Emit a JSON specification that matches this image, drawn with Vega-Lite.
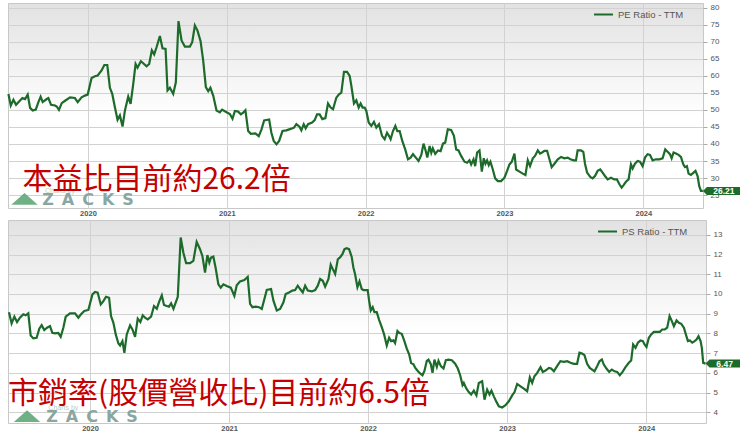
{
  "$schema": "https://vega.github.io/schema/vega-lite/v6.json",
  "padding": {"left": 3, "top": 2, "right": 0, "bottom": 0},
  "background": "white",
  "bounds": "flush",
  "spacing": 12,
  "datasets": {
    "pe": [
      {"t":2019.427,"v":54.7},{"t":2019.444,"v":51.3},{"t":2019.463,"v":53.0},{"t":2019.482,"v":51.5},{"t":2019.504,"v":52.5},
      {"t":2019.528,"v":53.5},{"t":2019.547,"v":53.2},{"t":2019.566,"v":54.5},{"t":2019.583,"v":50.6},{"t":2019.602,"v":49.8},
      {"t":2019.624,"v":50.1},{"t":2019.643,"v":52.3},{"t":2019.659,"v":53.9},{"t":2019.674,"v":52.3},{"t":2019.703,"v":53.2},
      {"t":2019.715,"v":53.5},{"t":2019.734,"v":51.5},{"t":2019.763,"v":51.3},{"t":2019.775,"v":51.0},{"t":2019.791,"v":50.0},
      {"t":2019.811,"v":52.0},{"t":2019.835,"v":52.7},{"t":2019.871,"v":53.7},{"t":2019.906,"v":53.5},{"t":2019.926,"v":52.3},
      {"t":2019.954,"v":53.7},{"t":2019.978,"v":54.2},{"t":2019.998,"v":54.5},{"t":2020.026,"v":59.4},{"t":2020.050,"v":59.9},
      {"t":2020.070,"v":60.1},{"t":2020.098,"v":61.6},{"t":2020.118,"v":63.2},{"t":2020.139,"v":63.2},{"t":2020.158,"v":56.5},
      {"t":2020.175,"v":54.7},{"t":2020.194,"v":50.8},{"t":2020.213,"v":47.1},{"t":2020.230,"v":48.4},{"t":2020.249,"v":45.1},
      {"t":2020.266,"v":49.8},{"t":2020.290,"v":53.9},{"t":2020.307,"v":51.8},{"t":2020.326,"v":57.6},{"t":2020.343,"v":63.5},
      {"t":2020.357,"v":62.4},{"t":2020.381,"v":64.3},{"t":2020.398,"v":63.7},{"t":2020.422,"v":62.8},{"t":2020.441,"v":63.5},
      {"t":2020.460,"v":67.5},{"t":2020.477,"v":66.3},{"t":2020.494,"v":68.4},{"t":2020.518,"v":71.7},{"t":2020.537,"v":68.1},
      {"t":2020.559,"v":67.9},{"t":2020.573,"v":55.7},{"t":2020.590,"v":56.5},{"t":2020.614,"v":54.7},{"t":2020.633,"v":58.1},
      {"t":2020.652,"v":76.1},{"t":2020.674,"v":70.4},{"t":2020.698,"v":68.6},{"t":2020.734,"v":68.6},{"t":2020.751,"v":69.9},
      {"t":2020.770,"v":74.8},{"t":2020.789,"v":73.3},{"t":2020.811,"v":70.2},{"t":2020.830,"v":64.5},{"t":2020.849,"v":56.7},
      {"t":2020.866,"v":55.5},{"t":2020.882,"v":56.5},{"t":2020.902,"v":54.2},{"t":2020.926,"v":49.8},{"t":2020.950,"v":49.3},
      {"t":2020.966,"v":50.1},{"t":2020.998,"v":49.3},{"t":2021.022,"v":48.8},{"t":2021.041,"v":47.4},{"t":2021.058,"v":49.7},
      {"t":2021.082,"v":49.5},{"t":2021.101,"v":48.7},{"t":2021.118,"v":49.2},{"t":2021.134,"v":49.9},{"t":2021.154,"v":43.8},
      {"t":2021.173,"v":43.0},{"t":2021.206,"v":43.1},{"t":2021.230,"v":42.3},{"t":2021.250,"v":44.3},{"t":2021.269,"v":46.9},
      {"t":2021.305,"v":47.2},{"t":2021.321,"v":43.3},{"t":2021.338,"v":40.9},{"t":2021.358,"v":39.9},{"t":2021.377,"v":40.9},
      {"t":2021.401,"v":43.8},{"t":2021.429,"v":44.0},{"t":2021.465,"v":44.5},{"t":2021.484,"v":44.8},{"t":2021.501,"v":45.8},
      {"t":2021.525,"v":45.0},{"t":2021.537,"v":44.0},{"t":2021.554,"v":45.8},{"t":2021.568,"v":44.6},{"t":2021.585,"v":45.8},
      {"t":2021.614,"v":46.3},{"t":2021.633,"v":47.0},{"t":2021.650,"v":48.7},{"t":2021.669,"v":48.7},{"t":2021.688,"v":47.3},
      {"t":2021.710,"v":47.6},{"t":2021.729,"v":51.9},{"t":2021.748,"v":50.7},{"t":2021.765,"v":50.2},{"t":2021.789,"v":53.6},
      {"t":2021.808,"v":54.6},{"t":2021.825,"v":55.1},{"t":2021.844,"v":61.2},{"t":2021.866,"v":61.2},{"t":2021.885,"v":60.0},
      {"t":2021.897,"v":57.1},{"t":2021.916,"v":51.9},{"t":2021.933,"v":52.8},{"t":2021.950,"v":50.7},{"t":2021.964,"v":51.9},
      {"t":2021.978,"v":50.7},{"t":2021.993,"v":50.7},{"t":2022.005,"v":49.7},{"t":2022.022,"v":46.3},{"t":2022.041,"v":45.3},
      {"t":2022.060,"v":46.5},{"t":2022.077,"v":44.8},{"t":2022.096,"v":45.8},{"t":2022.118,"v":42.4},{"t":2022.137,"v":41.4},
      {"t":2022.154,"v":43.3},{"t":2022.168,"v":42.4},{"t":2022.180,"v":41.4},{"t":2022.197,"v":43.8},{"t":2022.214,"v":45.3},
      {"t":2022.228,"v":43.8},{"t":2022.245,"v":43.8},{"t":2022.264,"v":40.9},{"t":2022.285,"v":38.4},{"t":2022.305,"v":35.5},
      {"t":2022.324,"v":36.0},{"t":2022.341,"v":37.0},{"t":2022.357,"v":36.2},{"t":2022.381,"v":35.0},{"t":2022.401,"v":36.8},
      {"t":2022.417,"v":40.1},{"t":2022.432,"v":38.1},{"t":2022.444,"v":36.0},{"t":2022.461,"v":39.4},{"t":2022.473,"v":37.4},
      {"t":2022.484,"v":38.7},{"t":2022.501,"v":37.1},{"t":2022.521,"v":38.1},{"t":2022.540,"v":37.9},{"t":2022.557,"v":40.1},
      {"t":2022.573,"v":40.4},{"t":2022.592,"v":44.3},{"t":2022.616,"v":44.1},{"t":2022.636,"v":42.4},{"t":2022.652,"v":38.4},
      {"t":2022.669,"v":38.1},{"t":2022.688,"v":36.5},{"t":2022.712,"v":34.8},{"t":2022.731,"v":34.5},{"t":2022.748,"v":35.2},
      {"t":2022.760,"v":34.0},{"t":2022.777,"v":35.5},{"t":2022.789,"v":33.5},{"t":2022.803,"v":37.5},{"t":2022.820,"v":38.1},
      {"t":2022.837,"v":31.9},{"t":2022.851,"v":35.8},{"t":2022.863,"v":34.2},{"t":2022.875,"v":35.2},{"t":2022.887,"v":33.8},
      {"t":2022.899,"v":34.8},{"t":2022.916,"v":32.5},{"t":2022.933,"v":29.9},{"t":2022.952,"v":29.1},{"t":2022.976,"v":29.1},
      {"t":2023.000,"v":30.1},{"t":2023.019,"v":32.1},{"t":2023.036,"v":34.0},{"t":2023.053,"v":34.8},{"t":2023.072,"v":37.2},
      {"t":2023.084,"v":32.5},{"t":2023.108,"v":31.9},{"t":2023.132,"v":31.3},{"t":2023.151,"v":30.9},{"t":2023.168,"v":35.2},
      {"t":2023.184,"v":33.5},{"t":2023.204,"v":35.8},{"t":2023.220,"v":36.5},{"t":2023.240,"v":38.1},{"t":2023.256,"v":37.2},
      {"t":2023.271,"v":37.5},{"t":2023.288,"v":38.0},{"t":2023.307,"v":38.0},{"t":2023.324,"v":35.5},{"t":2023.340,"v":33.2},
      {"t":2023.360,"v":34.2},{"t":2023.384,"v":35.5},{"t":2023.408,"v":36.2},{"t":2023.431,"v":35.8},{"t":2023.455,"v":36.0},
      {"t":2023.475,"v":35.5},{"t":2023.499,"v":35.2},{"t":2023.515,"v":35.2},{"t":2023.527,"v":38.1},{"t":2023.551,"v":38.1},
      {"t":2023.568,"v":37.7},{"t":2023.580,"v":34.2},{"t":2023.595,"v":31.6},{"t":2023.618,"v":30.3},{"t":2023.635,"v":29.9},
      {"t":2023.652,"v":30.6},{"t":2023.671,"v":32.1},{"t":2023.690,"v":32.5},{"t":2023.707,"v":31.6},{"t":2023.724,"v":30.6},
      {"t":2023.743,"v":29.6},{"t":2023.767,"v":30.1},{"t":2023.791,"v":29.6},{"t":2023.810,"v":29.6},{"t":2023.829,"v":28.1},
      {"t":2023.844,"v":27.2},{"t":2023.858,"v":27.9},{"t":2023.875,"v":28.9},{"t":2023.894,"v":29.6},{"t":2023.911,"v":34.0},
      {"t":2023.923,"v":32.8},{"t":2023.940,"v":34.2},{"t":2023.959,"v":35.0},{"t":2023.976,"v":34.8},{"t":2023.995,"v":33.5},
      {"t":2024.012,"v":36.0},{"t":2024.031,"v":37.0},{"t":2024.048,"v":36.8},{"t":2024.067,"v":35.2},{"t":2024.091,"v":35.5},
      {"t":2024.115,"v":35.5},{"t":2024.139,"v":35.8},{"t":2024.158,"v":38.4},{"t":2024.175,"v":37.7},{"t":2024.192,"v":37.0},
      {"t":2024.204,"v":35.8},{"t":2024.218,"v":37.5},{"t":2024.235,"v":37.2},{"t":2024.254,"v":36.8},{"t":2024.271,"v":36.2},
      {"t":2024.288,"v":34.0},{"t":2024.300,"v":33.2},{"t":2024.314,"v":33.5},{"t":2024.326,"v":31.3},{"t":2024.343,"v":30.9},
      {"t":2024.362,"v":31.6},{"t":2024.376,"v":32.1},{"t":2024.391,"v":30.6},{"t":2024.403,"v":27.6},{"t":2024.415,"v":26.2},
      {"t":2024.429,"v":26.21}
    ],
    "ps": [
      {"t":2019.417,"v":9.08},{"t":2019.436,"v":8.51},{"t":2019.456,"v":8.85},{"t":2019.475,"v":8.58},{"t":2019.496,"v":8.80},
      {"t":2019.520,"v":8.97},{"t":2019.537,"v":8.92},{"t":2019.556,"v":9.02},{"t":2019.573,"v":7.90},{"t":2019.592,"v":7.75},
      {"t":2019.616,"v":7.78},{"t":2019.635,"v":8.24},{"t":2019.652,"v":8.42},{"t":2019.671,"v":8.17},{"t":2019.691,"v":8.29},
      {"t":2019.712,"v":8.37},{"t":2019.729,"v":8.03},{"t":2019.748,"v":8.00},{"t":2019.772,"v":8.03},{"t":2019.789,"v":7.83},
      {"t":2019.808,"v":8.29},{"t":2019.825,"v":8.85},{"t":2019.856,"v":9.02},{"t":2019.892,"v":9.02},{"t":2019.916,"v":8.80},
      {"t":2019.935,"v":8.97},{"t":2019.959,"v":9.14},{"t":2019.988,"v":9.19},{"t":2020.017,"v":9.98},{"t":2020.036,"v":10.10},
      {"t":2020.055,"v":10.07},{"t":2020.077,"v":9.47},{"t":2020.096,"v":9.64},{"t":2020.115,"v":9.86},{"t":2020.137,"v":9.81},
      {"t":2020.151,"v":8.88},{"t":2020.168,"v":8.54},{"t":2020.185,"v":7.95},{"t":2020.204,"v":7.49},{"t":2020.216,"v":7.39},
      {"t":2020.233,"v":7.61},{"t":2020.247,"v":7.02},{"t":2020.264,"v":7.95},{"t":2020.288,"v":8.41},{"t":2020.305,"v":8.20},
      {"t":2020.324,"v":7.83},{"t":2020.343,"v":8.75},{"t":2020.362,"v":8.58},{"t":2020.379,"v":8.92},{"t":2020.396,"v":8.80},
      {"t":2020.415,"v":8.71},{"t":2020.439,"v":8.85},{"t":2020.460,"v":9.39},{"t":2020.480,"v":9.25},{"t":2020.496,"v":9.59},
      {"t":2020.516,"v":9.93},{"t":2020.532,"v":9.44},{"t":2020.552,"v":9.39},{"t":2020.568,"v":9.36},{"t":2020.583,"v":9.53},
      {"t":2020.600,"v":9.25},{"t":2020.616,"v":9.56},{"t":2020.631,"v":9.86},{"t":2020.652,"v":12.86},{"t":2020.671,"v":12.10},
      {"t":2020.691,"v":11.56},{"t":2020.719,"v":11.56},{"t":2020.743,"v":11.68},{"t":2020.767,"v":12.64},{"t":2020.791,"v":12.27},
      {"t":2020.808,"v":11.93},{"t":2020.827,"v":11.08},{"t":2020.844,"v":11.97},{"t":2020.858,"v":11.59},{"t":2020.870,"v":11.85},
      {"t":2020.887,"v":11.90},{"t":2020.904,"v":11.29},{"t":2020.923,"v":10.49},{"t":2020.940,"v":10.32},{"t":2020.959,"v":10.49},
      {"t":2020.983,"v":10.41},{"t":2021.012,"v":10.32},{"t":2021.026,"v":10.10},{"t":2021.038,"v":9.90},{"t":2021.055,"v":10.44},
      {"t":2021.079,"v":10.64},{"t":2021.110,"v":10.71},{"t":2021.134,"v":10.87},{"t":2021.151,"v":9.50},{"t":2021.168,"v":9.33},
      {"t":2021.192,"v":9.36},{"t":2021.216,"v":9.33},{"t":2021.235,"v":9.24},{"t":2021.254,"v":9.75},{"t":2021.271,"v":10.20},
      {"t":2021.302,"v":10.25},{"t":2021.319,"v":9.66},{"t":2021.343,"v":9.16},{"t":2021.367,"v":9.24},{"t":2021.391,"v":9.58},
      {"t":2021.407,"v":10.00},{"t":2021.431,"v":10.08},{"t":2021.455,"v":10.17},{"t":2021.475,"v":10.20},{"t":2021.494,"v":10.42},
      {"t":2021.511,"v":10.25},{"t":2021.530,"v":10.08},{"t":2021.547,"v":10.42},{"t":2021.566,"v":10.17},{"t":2021.595,"v":10.13},
      {"t":2021.619,"v":10.20},{"t":2021.638,"v":10.42},{"t":2021.655,"v":10.76},{"t":2021.674,"v":10.67},{"t":2021.691,"v":10.37},
      {"t":2021.715,"v":10.76},{"t":2021.731,"v":11.48},{"t":2021.746,"v":11.26},{"t":2021.763,"v":11.01},{"t":2021.782,"v":11.76},
      {"t":2021.798,"v":11.85},{"t":2021.815,"v":12.02},{"t":2021.830,"v":12.27},{"t":2021.846,"v":12.32},{"t":2021.863,"v":12.27},
      {"t":2021.882,"v":11.88},{"t":2021.894,"v":11.34},{"t":2021.906,"v":11.01},{"t":2021.923,"v":10.34},{"t":2021.938,"v":10.64},
      {"t":2021.954,"v":10.25},{"t":2021.966,"v":10.20},{"t":2021.983,"v":10.20},{"t":2021.997,"v":10.20},{"t":2022.007,"v":9.66},
      {"t":2022.019,"v":9.16},{"t":2022.033,"v":9.33},{"t":2022.045,"v":9.08},{"t":2022.062,"v":9.08},{"t":2022.079,"v":8.69},
      {"t":2022.098,"v":8.32},{"t":2022.115,"v":7.95},{"t":2022.134,"v":7.39},{"t":2022.151,"v":7.78},{"t":2022.165,"v":7.61},
      {"t":2022.182,"v":7.65},{"t":2022.194,"v":7.51},{"t":2022.211,"v":8.12},{"t":2022.225,"v":8.02},{"t":2022.242,"v":7.98},
      {"t":2022.259,"v":7.65},{"t":2022.278,"v":7.23},{"t":2022.295,"v":6.94},{"t":2022.309,"v":6.50},{"t":2022.326,"v":6.44},
      {"t":2022.338,"v":6.27},{"t":2022.357,"v":6.10},{"t":2022.374,"v":5.97},{"t":2022.391,"v":5.88},{"t":2022.405,"v":6.10},
      {"t":2022.422,"v":6.61},{"t":2022.434,"v":6.67},{"t":2022.451,"v":6.44},{"t":2022.463,"v":6.00},{"t":2022.477,"v":6.67},
      {"t":2022.494,"v":6.30},{"t":2022.506,"v":6.61},{"t":2022.523,"v":6.34},{"t":2022.542,"v":6.22},{"t":2022.559,"v":6.64},
      {"t":2022.578,"v":6.67},{"t":2022.602,"v":6.64},{"t":2022.626,"v":6.47},{"t":2022.645,"v":6.22},{"t":2022.662,"v":5.88},
      {"t":2022.679,"v":5.38},{"t":2022.688,"v":5.49},{"t":2022.707,"v":5.20},{"t":2022.724,"v":5.03},{"t":2022.741,"v":4.90},
      {"t":2022.760,"v":5.10},{"t":2022.779,"v":4.86},{"t":2022.796,"v":5.49},{"t":2022.820,"v":5.58},{"t":2022.837,"v":4.64},
      {"t":2022.856,"v":5.15},{"t":2022.873,"v":4.90},{"t":2022.887,"v":5.10},{"t":2022.904,"v":4.81},{"t":2022.923,"v":4.53},
      {"t":2022.940,"v":4.31},{"t":2022.964,"v":4.25},{"t":2022.988,"v":4.36},{"t":2023.012,"v":4.56},{"t":2023.036,"v":4.86},
      {"t":2023.053,"v":5.03},{"t":2023.072,"v":5.44},{"t":2023.096,"v":5.32},{"t":2023.120,"v":5.20},{"t":2023.144,"v":5.07},
      {"t":2023.163,"v":5.78},{"t":2023.180,"v":5.49},{"t":2023.196,"v":5.83},{"t":2023.216,"v":6.00},{"t":2023.240,"v":6.29},
      {"t":2023.256,"v":6.05},{"t":2023.276,"v":6.12},{"t":2023.300,"v":6.25},{"t":2023.316,"v":6.22},{"t":2023.336,"v":6.08},
      {"t":2023.359,"v":6.34},{"t":2023.383,"v":6.59},{"t":2023.408,"v":6.56},{"t":2023.432,"v":6.59},{"t":2023.455,"v":6.51},
      {"t":2023.479,"v":6.46},{"t":2023.503,"v":6.46},{"t":2023.520,"v":7.02},{"t":2023.539,"v":6.98},{"t":2023.556,"v":6.90},
      {"t":2023.575,"v":6.46},{"t":2023.594,"v":6.25},{"t":2023.611,"v":6.17},{"t":2023.628,"v":6.08},{"t":2023.647,"v":6.34},
      {"t":2023.664,"v":6.59},{"t":2023.681,"v":6.68},{"t":2023.695,"v":6.42},{"t":2023.714,"v":6.22},{"t":2023.734,"v":6.05},
      {"t":2023.753,"v":6.17},{"t":2023.772,"v":6.08},{"t":2023.791,"v":6.05},{"t":2023.810,"v":5.88},{"t":2023.830,"v":6.05},
      {"t":2023.851,"v":6.29},{"t":2023.875,"v":6.51},{"t":2023.892,"v":6.63},{"t":2023.906,"v":7.44},{"t":2023.923,"v":7.27},
      {"t":2023.940,"v":7.53},{"t":2023.959,"v":7.64},{"t":2023.976,"v":7.61},{"t":2023.988,"v":7.44},{"t":2024.002,"v":7.31},
      {"t":2024.019,"v":7.78},{"t":2024.036,"v":7.95},{"t":2024.055,"v":8.08},{"t":2024.079,"v":8.08},{"t":2024.098,"v":8.08},
      {"t":2024.115,"v":8.20},{"t":2024.134,"v":8.20},{"t":2024.151,"v":8.29},{"t":2024.168,"v":8.88},{"t":2024.182,"v":8.66},
      {"t":2024.199,"v":8.37},{"t":2024.218,"v":8.66},{"t":2024.235,"v":8.54},{"t":2024.252,"v":8.49},{"t":2024.271,"v":8.29},
      {"t":2024.285,"v":7.95},{"t":2024.300,"v":7.61},{"t":2024.314,"v":7.64},{"t":2024.331,"v":7.53},{"t":2024.348,"v":7.61},
      {"t":2024.362,"v":7.69},{"t":2024.376,"v":7.86},{"t":2024.391,"v":7.61},{"t":2024.400,"v":7.27},{"t":2024.410,"v":6.51},
      {"t":2024.427,"v":6.47}
    ]
  },
  "vconcat": [
    {
      "width": 695,
      "height": 205,
      "data": {"name": "pe"},
      "encoding": {
        "x": {
          "field": "t", "type": "quantitative",
          "scale": {"domain": [2019.424, 2024.43], "nice": false, "zero": false},
          "axis": {"values": [2020, 2021, 2022, 2023, 2024], "format": "d", "title": null, "ticks": false, "domain": false, "labelPadding": 1, "labelFontSize": 7.5, "labelFontWeight": "bold", "labelColor": "#555555", "gridColor": "#d2d2d2"}
        },
        "y": {
          "field": "v", "type": "quantitative",
          "scale": {"domain": [21.2, 81.4], "nice": false, "zero": false},
          "axis": {"orient": "right", "values": [25, 30, 35, 40, 45, 50, 55, 60, 65, 70, 75, 80], "title": null, "domain": false, "tickSize": 4, "tickColor": "#aaaaaa", "labelPadding": 3, "labelFontSize": 8, "labelColor": "#555555", "gridColor": "#d2d2d2"}
        }
      },
      "layer": [
        {
          "mark": {"type": "line", "strokeWidth": 2.2},
          "encoding": {
            "color": {
              "datum": "PE Ratio - TTM",
              "scale": {"range": ["#1d6b2a"]},
              "legend": {"orient": "none", "legendX": 585, "legendY": 1, "padding": 0, "title": null, "symbolType": "stroke", "symbolStrokeWidth": 2, "symbolSize": 360, "labelFontSize": 9.5, "labelColor": "#555555"}
            }
          }
        },
        {
          "transform": [
            {"joinaggregate": [{"op": "max", "field": "t", "as": "tmax"}]},
            {"filter": "datum.t === datum.tmax"}
          ],
          "layer": [
            {"mark": {"type": "point", "shape": "M0,0 L1,-1 L11,-1 L11,1 L1,1 Z", "size": 64, "filled": true, "color": "#1d6b2a", "opacity": 1}},
            {"mark": {"type": "text", "dx": 21, "align": "center", "baseline": "middle", "fontSize": 8.5, "fontWeight": "bold", "color": "white"},
             "encoding": {"text": {"field": "v", "format": ".2f"}}},
            {"mark": {"type": "point", "shape": "M-1,0.44 L0,-0.44 L1,0.44 Z", "size": 700, "filled": true, "color": "#5fa877", "opacity": 0.9},
             "encoding": {"x": {"datum": 2019.543}, "y": {"datum": 23.9}}},
            {"mark": {"type": "text", "text": "Z\u2002A\u2002C\u2002K\u2002S", "font": "DejaVu Sans", "fontSize": 16, "fontWeight": "bold", "align": "left", "baseline": "alphabetic", "color": "#8aa6a0"},
             "encoding": {"x": {"datum": 2019.67}, "y": {"datum": 22.14}}},
            {"mark": {"type": "text", "text": "Charts by", "fontSize": 7, "align": "left", "baseline": "alphabetic", "color": "#b9cfc2"},
             "encoding": {"x": {"datum": 2019.69}, "y": {"datum": 25.67}}},
            {"mark": {"type": "text", "text": "本益比目前約26.2倍", "font": "Noto Sans CJK TC", "fontSize": 30, "align": "left", "baseline": "alphabetic", "color": "#c40000"},
             "encoding": {"x": {"datum": 2019.528}, "y": {"datum": 26.84}}}
          ]
        }
      ]
    },
    {
      "width": 698,
      "height": 203,
      "data": {"name": "ps"},
      "encoding": {
        "x": {
          "field": "t", "type": "quantitative",
          "scale": {"domain": [2019.41, 2024.43], "nice": false, "zero": false},
          "axis": {"values": [2020, 2021, 2022, 2023, 2024], "format": "d", "title": null, "ticks": false, "domain": false, "labelPadding": 1, "labelFontSize": 7.5, "labelFontWeight": "bold", "labelColor": "#555555", "gridColor": "#d2d2d2"}
        },
        "y": {
          "field": "v", "type": "quantitative",
          "scale": {"domain": [3.46, 13.75], "nice": false, "zero": false},
          "axis": {"orient": "right", "values": [4, 5, 6, 7, 8, 9, 10, 11, 12, 13], "title": null, "domain": false, "tickSize": 4, "tickColor": "#aaaaaa", "labelPadding": 3, "labelFontSize": 8, "labelColor": "#555555", "gridColor": "#d2d2d2"}
        }
      },
      "layer": [
        {
          "mark": {"type": "line", "strokeWidth": 2.2},
          "encoding": {
            "color": {
              "datum": "PS Ratio - TTM",
              "scale": {"range": ["#1d6b2a"]},
              "legend": {"orient": "none", "legendX": 589, "legendY": 1, "padding": 0, "title": null, "symbolType": "stroke", "symbolStrokeWidth": 2, "symbolSize": 360, "labelFontSize": 9.5, "labelColor": "#555555"}
            }
          }
        },
        {
          "transform": [
            {"joinaggregate": [{"op": "max", "field": "t", "as": "tmax"}]},
            {"filter": "datum.t === datum.tmax"}
          ],
          "layer": [
            {"mark": {"type": "point", "shape": "M0,0 L1,-1 L11,-1 L11,1 L1,1 Z", "size": 64, "filled": true, "color": "#1d6b2a", "opacity": 1}},
            {"mark": {"type": "text", "dx": 19, "align": "center", "baseline": "middle", "fontSize": 8.5, "fontWeight": "bold", "color": "white"},
             "encoding": {"text": {"field": "v", "format": ".2f"}}},
            {"mark": {"type": "point", "shape": "M-1,0.44 L0,-0.44 L1,0.44 Z", "size": 700, "filled": true, "color": "#5fa877", "opacity": 0.9},
             "encoding": {"x": {"datum": 2019.547}, "y": {"datum": 3.81}}},
            {"mark": {"type": "text", "text": "Z\u2002A\u2002C\u2002K\u2002S", "font": "DejaVu Sans", "fontSize": 16, "fontWeight": "bold", "align": "left", "baseline": "alphabetic", "color": "#8aa6a0"},
             "encoding": {"x": {"datum": 2019.685}, "y": {"datum": 3.51}}},
            {"mark": {"type": "text", "text": "Charts by", "fontSize": 7, "align": "left", "baseline": "alphabetic", "color": "#b9cfc2"},
             "encoding": {"x": {"datum": 2019.70}, "y": {"datum": 4.12}}},
            {"mark": {"type": "text", "text": "市銷率(股價營收比)目前約6.5倍", "font": "Noto Sans CJK TC", "fontSize": 30, "align": "left", "baseline": "alphabetic", "color": "#c40000"},
             "encoding": {"x": {"datum": 2019.41}, "y": {"datum": 4.47}}}
          ]
        }
      ]
    }
  ],
  "resolve": {
    "scale": {"x": "independent", "y": "independent", "color": "independent"},
    "legend": {"color": "independent"}
  },
  "config": {
    "font": "Liberation Sans",
    "view": {
      "stroke": "#c8c8c8",
      "fill": {"gradient": "linear", "x1": 0, "y1": 0, "x2": 0, "y2": 1, "stops": [{"offset": 0, "color": "#e2e2e2"}, {"offset": 0.55, "color": "#ffffff"}, {"offset": 1, "color": "#ffffff"}]}
    }
  }
}
